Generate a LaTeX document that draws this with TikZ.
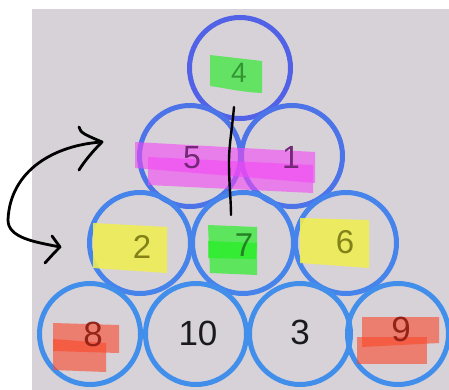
\documentclass[tikz,border=0pt]{standalone}
\usepackage{fontspec}
\setmainfont{Liberation Sans}

% palette
\definecolor{paper}{RGB}{214,210,216}
\definecolor{ringA}{RGB}{82,98,230}
\definecolor{ringB}{RGB}{76,116,232}
\definecolor{ringC}{RGB}{70,132,235}
\definecolor{ringD}{RGB}{66,142,235}
\definecolor{hlGreen}{RGB}{100,226,100}
\definecolor{hlLime}{RGB}{30,240,30}
\definecolor{hlPink}{RGB}{245,70,245}
\definecolor{hlYellow}{RGB}{240,238,80}
\definecolor{hlRed}{RGB}{250,70,40}
\definecolor{inkGreen}{RGB}{50,150,50}
\definecolor{inkDeepGreen}{RGB}{35,130,35}
\definecolor{inkPurple}{RGB}{115,40,120}
\definecolor{inkOlive}{RGB}{130,130,25}
\definecolor{inkRed}{RGB}{150,35,25}
\definecolor{inkDark}{RGB}{25,25,30}

\tikzset{
  ring/.style={circle, draw=#1, line width=5pt, minimum size=101pt, inner sep=0pt},
  num/.style={font=\fontsize{#1}{#1}\selectfont, inner sep=0pt},
  marker/.style={fill=#1, fill opacity=0.6},
  pen/.style={line width=2.8pt, line cap=round, line join=round, black}
}

\begin{document}
\begin{tikzpicture}[x=1pt,y=-1pt]
\useasboundingbox (0,0) rectangle (449,390);
\fill[white] (0,0) rectangle (449,390);
\fill[paper] (32,9) rectangle (449,390);

% the pyramid of rings
\node[ring=ringA] (c4)  at (240,68)  {};
\node[ring=ringB] (c5)  at (190,156) {};
\node[ring=ringB] (c1)  at (292,156) {};
\node[ring=ringC] (c2)  at (140,243) {};
\node[ring=ringC] (c7)  at (243,243) {};
\node[ring=ringC] (c6)  at (346,243) {};
\node[ring=ringD] (c8)  at (90,334)  {};
\node[ring=ringD] (c10) at (196,334) {};
\node[ring=ringD] (c3)  at (300,334) {};
\node[ring=ringD] (c9)  at (398,334) {};

% highlighter marks
\fill[hlGreen] (210,55) -- (262,61) -- (262,93) .. controls (240,92) and (225,88) .. (210,86) -- cycle;
\fill[marker=hlPink] (135,142) -- (315,152) -- (315,183) -- (135,168) -- cycle;
\fill[marker=hlPink] (148,157) -- (313,165) -- (313,193) -- (148,185) -- cycle;
\fill[hlYellow, fill opacity=0.88] (93,223) -- (167,227) -- (167,273) -- (93,268) -- cycle;
\fill[hlYellow, fill opacity=0.88] (300,218) -- (369,220) -- (369,268) -- (300,263) -- cycle;
\fill[marker=hlLime, fill opacity=0.65] (208,225) -- (257,227) -- (257,275) -- (210,273) -- cycle;
\fill[marker=hlLime, fill opacity=0.65] (208,241) -- (257,243) -- (256,259) -- (208,258) -- cycle;
\fill[marker=hlRed] (53,323) -- (119,325) -- (119,353) -- (53,351) -- cycle;
\fill[marker=hlRed] (53,339) -- (106,343) -- (106,372) -- (53,370) -- cycle;
\fill[marker=hlRed] (362,317) -- (439,317) -- (439,343) -- (362,347) -- cycle;
\fill[marker=hlRed] (357,337) -- (427,337) -- (427,364) -- (357,364) -- cycle;

% numbers
\node[num=28, text=inkGreen]     (n4)  at (239,73)  {4};
\node[num=32, text=inkPurple]    (n5)  at (192,158) {5};
\node[num=32, text=inkPurple]    (n1)  at (291,157) {1};
\node[num=33, text=inkOlive]     (n2)  at (142,247) {2};
\node[num=33, text=inkDeepGreen] (n7)  at (244,245) {7};
\node[num=33, text=inkOlive]     (n6)  at (345,242) {6};
\node[num=35, text=inkRed]       (n8)  at (93,334)  {8};
\node[num=35, text=inkDark]      (n10) at (198,333) {10};
\node[num=35, text=inkDark]      (n3)  at (300,332) {3};
\node[num=35, text=inkRed]       (n9)  at (401,329) {9};

% pen stroke dividing the rows
\coordinate (s1) at (234,107);
\coordinate (s2) at (229,162);
\coordinate (s3) at (231,215);
\draw[pen, line width=2.4pt] (s1) .. controls (232,130) and (229,145) .. (s2)
  .. controls (229,185) and (231,200) .. (s3);

% swap arrow on the left
\coordinate (ta) at (102,142);
\coordinate (tb) at (60,247);
\draw[pen] (ta) .. controls (55,145) and (10,170) .. (8,220)
  .. controls (8,238) and (35,242) .. (tb);
\draw[pen] (79,127) .. controls (80,133) and (86,135) .. (ta)
  .. controls (92,152) and (84,162) .. (79,170);
\draw[pen] (52,236) .. controls (56,241) .. (tb) .. controls (54,253) .. (45,263);
\end{tikzpicture}
\end{document}
